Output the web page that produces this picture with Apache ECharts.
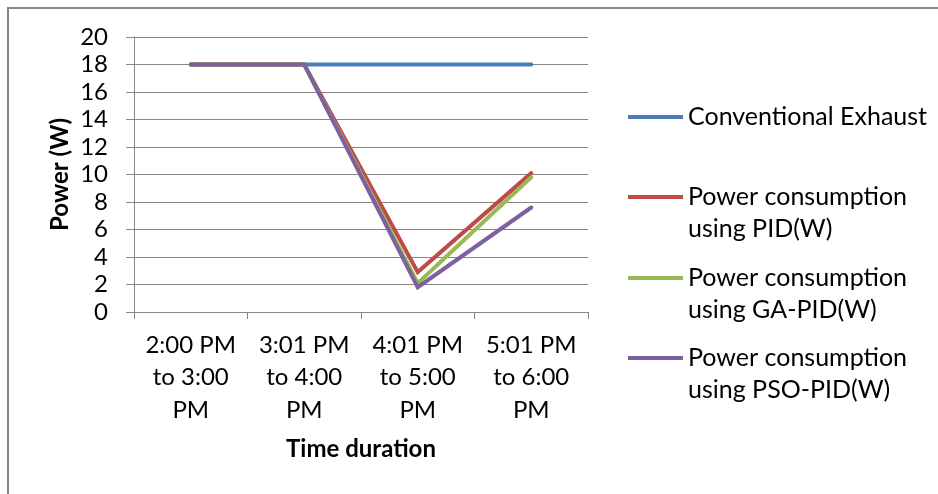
<!DOCTYPE html>
<html>
<head>
<meta charset="utf-8">
<script src="https://cdn.jsdelivr.net/npm/echarts@6/dist/echarts.min.js"></script>
<style>
  html, body { margin: 0; padding: 0; background: #fff; }
  #chart { width: 938px; height: 494px; }
</style>
</head>
<body>
<div id="chart"></div>
<script>
// Time slots along the x axis
const categories = ['2:00 PM\nto 3:00\nPM', '3:01 PM\nto 4:00\nPM', '4:01 PM\nto 5:00\nPM', '5:01 PM\nto 6:00\nPM'];

// Power drawn in each slot (W)
const conventionalExhaust = [18, 18, 18, 18];
const pidPower = [18, 18, 2.9, 10.1];
const gaPidPower = [18, 18, 2.1, 9.8];
const psoPidPower = [18, 18, 1.8, 7.6];

// Y axis range
const yMin = 0, yMax = 20, yStep = 2;

const seriesNames = [
  'Conventional Exhaust',
  'Power consumption\nusing PID(W)',
  'Power consumption\nusing GA-PID(W)',
  'Power consumption\nusing PSO-PID(W)'
];
const seriesData = [conventionalExhaust, pidPower, gaPidPower, psoPidPower];
const colors = ['#4A7EBB', '#BE4B48', '#98B954', '#7D60A0'];

const FONT = 'Lato, "Open Sans", sans-serif';
const GRID_GRAY = '#868686';
const LEGEND_LINE = 32;

const chart = echarts.init(document.getElementById('chart'), null, { renderer: 'canvas' });

// One legend block per series so each can sit at its own height.
// Two-line names get a blank first line so the marker lines up with the first text line.
const legendMarkerY = [117, 197, 278, 358];
const legends = seriesNames.map((name, i) => {
  const twoLine = name.indexOf('\n') >= 0;
  return {
    data: [name],
    orient: 'vertical',
    left: 628,
    top: legendMarkerY[i] - (twoLine ? LEGEND_LINE * 1.5 : LEGEND_LINE / 2),
    padding: 0,
    icon: 'rect',
    itemWidth: 55,
    itemHeight: 4,
    itemGap: 4,
    selectedMode: false,
    formatter: n => (n.indexOf('\n') >= 0 ? '\n' + n : n),
    textStyle: {
      fontFamily: FONT,
      fontSize: 25,
      color: '#000',
      lineHeight: LEGEND_LINE
    }
  };
});

chart.setOption({
  animation: false,
  color: colors,
  graphic: [{
    type: 'rect',
    shape: { x: 8, y: 8, width: 960, height: 520 },
    style: { fill: 'none', stroke: '#868686', lineWidth: 2 },
    silent: true
  }],
  legend: legends,
  grid: { left: 134, right: 350, top: 37, bottom: 182, containLabel: false },
  xAxis: {
    type: 'category',
    data: categories,
    boundaryGap: true,
    axisLine: { lineStyle: { color: GRID_GRAY, width: 1 } },
    axisTick: { show: true, length: 7, lineStyle: { color: GRID_GRAY } },
    axisLabel: {
      fontFamily: FONT, fontSize: 24, color: '#000',
      lineHeight: 32.5, margin: 17, interval: 0, align: 'center'
    },
    name: 'Time duration',
    nameLocation: 'middle',
    nameGap: 125,
    nameTextStyle: { fontFamily: FONT, fontSize: 24, fontWeight: 'bold', color: '#000' }
  },
  yAxis: {
    type: 'value',
    min: yMin, max: yMax, interval: yStep,
    axisLine: { show: true, lineStyle: { color: GRID_GRAY, width: 1 } },
    axisTick: { show: true, length: 8, lineStyle: { color: GRID_GRAY } },
    splitLine: { show: true, lineStyle: { color: GRID_GRAY, width: 1 } },
    axisLabel: { fontFamily: FONT, fontSize: 24, color: '#000', margin: 26 },
    name: 'Power (W)',
    nameLocation: 'middle',
    nameGap: 62,
    nameRotate: 90,
    nameTextStyle: { fontFamily: FONT, fontSize: 24, fontWeight: 'bold', color: '#000' }
  },
  series: seriesNames.map((name, i) => ({
    name: name,
    type: 'line',
    data: seriesData[i],
    symbol: 'none',
    z: 2 + i,
    lineStyle: { width: 4, color: colors[i], cap: 'round', join: 'miter' },
    itemStyle: { color: colors[i] }
  }))
});
</script>
</body>
</html>
